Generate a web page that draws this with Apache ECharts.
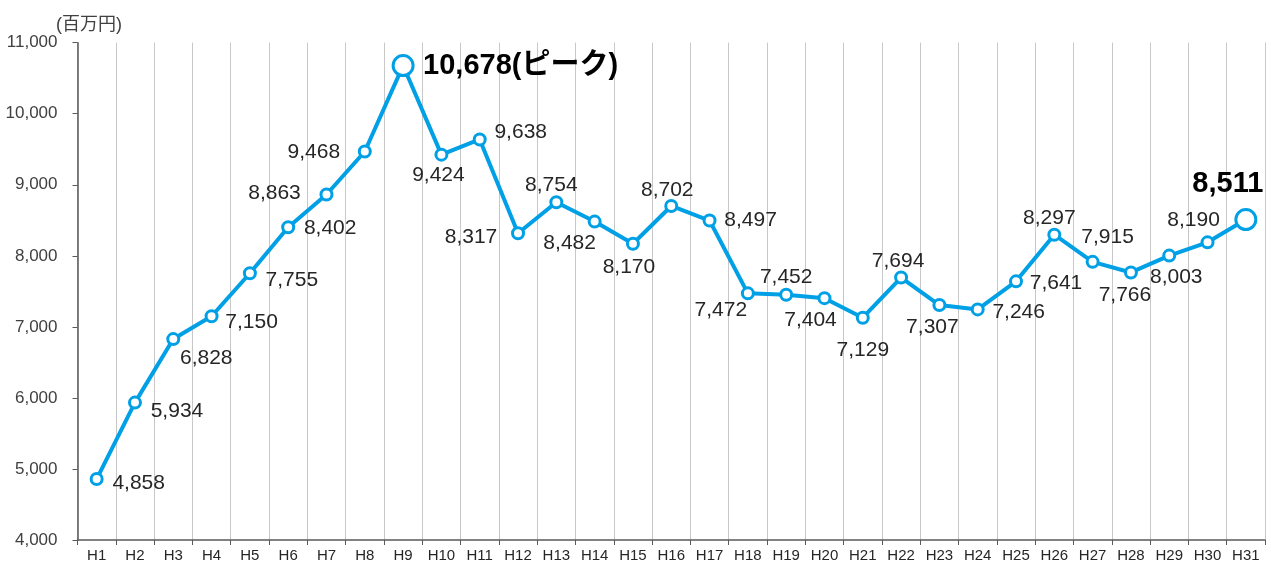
<!DOCTYPE html>
<html>
<head>
<meta charset="utf-8">
<script src="https://cdn.jsdelivr.net/npm/echarts@6/dist/echarts.min.js"></script>
<style>
html,body{margin:0;padding:0;background:#fff;}
#chart{width:1271px;height:565px;}
</style>
</head>
<body>
<div id="chart"></div>
<script>
// ---- data ----
const categories = ['H1','H2','H3','H4','H5','H6','H7','H8','H9','H10','H11','H12','H13','H14','H15','H16','H17','H18','H19','H20','H21','H22','H23','H24','H25','H26','H27','H28','H29','H30','H31'];
const values = [4858,5934,6828,7150,7755,8402,8863,9468,10678,9424,9638,8317,8754,8482,8170,8702,8497,7472,7452,7404,7129,7694,7307,7246,7641,8297,7915,7766,8003,8190,8511];
const unitLabel = '(百万円)';
const peakSuffix = '(ピーク)';
const peakIndex = 8;
const lastIndex = 30;
const yMin = 4000, yMax = 11000, yInterval = 1000;

// ---- label placement (style) ----
const labelOffsets = [[42,4],[42,9],[33,19],[40,6],[42,7],[42,1],[-52,-1],[-51,1],[20,0],[-3,21],[41,-7],[-47,4],[-5,-17],[-25,22],[-4,23],[-4,-16],[41,0],[-27,17],[0,-18],[-14,22],[0,32],[-3,-16],[-7,22],[41,3],[40,2],[-5,-17],[15,-25],[-6,23],[7,22],[-14,-22],[-18,-36]];

const fmt = v => v.toLocaleString('en-US');
const FONT = '"Liberation Sans", "Noto Sans CJK JP", sans-serif';

const seriesData = values.map((v, i) => {
  const big = (i === peakIndex || i === lastIndex);
  return {
    value: v,
    symbolSize: big ? 20 : 11,
    label: {
      offset: labelOffsets[i],
      fontSize: big ? 29 : 21,
      fontWeight: big ? 'bold' : 'normal',
      color: big ? '#000' : '#262626',
      align: i === peakIndex ? 'left' : 'center'
    }
  };
});

const chart = echarts.init(document.getElementById('chart'), null, {renderer: 'canvas'});
chart.setOption({
  animation: false,
  backgroundColor: '#fff',
  textStyle: {fontFamily: FONT},
  title: {
    text: unitLabel,
    left: 51, top: 11,
    textStyle: {fontSize: 18, fontWeight: 'normal', color: '#404040', fontFamily: FONT}
  },
  grid: {left: 77.5, right: 6, top: 42.7, bottom: 25, containLabel: false},
  xAxis: {
    type: 'category',
    data: categories,
    boundaryGap: true,
    axisLine: {show: true, lineStyle: {color: '#595959', width: 1.5}},
    axisTick: {show: true, length: 5, lineStyle: {color: '#595959'}},
    axisLabel: {fontSize: 15, color: '#262626', margin: 8, fontFamily: FONT},
    splitLine: {show: true, lineStyle: {color: '#c8c8c8', width: 1}}
  },
  yAxis: {
    type: 'value',
    min: yMin, max: yMax, interval: yInterval,
    axisLine: {show: true, lineStyle: {color: '#595959', width: 1.5}},
    axisTick: {show: true, length: 5, lineStyle: {color: '#595959'}},
    axisLabel: {fontSize: 17, color: '#404040', margin: 20, formatter: v => fmt(v), fontFamily: FONT},
    splitLine: {show: false}
  },
  series: [{
    type: 'line',
    data: seriesData,
    symbol: 'circle',
    showAllSymbol: true,
    lineStyle: {color: '#00a0e6', width: 4},
    itemStyle: {color: '#fff', borderColor: '#00a0e6', borderWidth: 3},
    label: {
      show: true,
      position: 'inside',
      verticalAlign: 'middle',
      fontFamily: FONT,
      formatter: p => p.dataIndex === peakIndex ? fmt(p.value) + peakSuffix : fmt(p.value)
    },
    emphasis: {disabled: true}
  }]
});
</script>
</body>
</html>
